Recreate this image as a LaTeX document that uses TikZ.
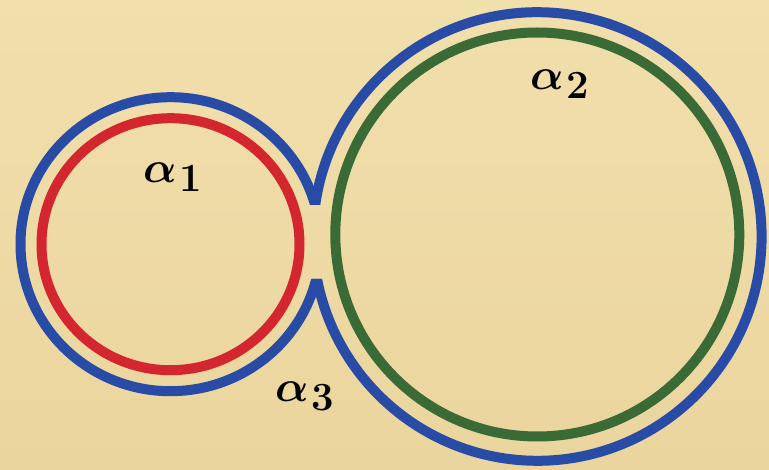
\RequirePackage{fix-cm}
\documentclass[tikz,border=0pt]{standalone}
\usepackage{amsmath}
\definecolor{parch}{RGB}{235,213,158}
\definecolor{parchlight}{RGB}{241,223,172}
\definecolor{cblue}{RGB}{40,76,166}
\definecolor{cred}{RGB}{212,38,46}
\definecolor{cgreen}{RGB}{58,106,54}
\newcommand{\alab}[1]{$\alpha$\hspace{3pt}\raisebox{-9pt}{\fontsize{40}{40}\selectfont\bfseries #1}}
\tikzset{
  ring/.style={line width=10pt, line cap=butt},
  lbl/.style={anchor=base west, inner sep=0pt, font=\fontsize{44}{46}\selectfont\boldmath}
}
\begin{document}
\begin{tikzpicture}[x=1pt,y=1pt]
\useasboundingbox (0,0) rectangle (769,469);
\shade[top color=parchlight, bottom color=parch] (0,0) rectangle (769,469);
% red and green inner curves
\draw[ring, cred] (170.5,224.8) ellipse [x radius=129, y radius=126];
\draw[ring, cgreen] (537.3,234.5) circle [radius=202];
% blue outer curve with gap
\begin{scope}
  \clip (-5,-5) rectangle (290,475) (345,-5) rectangle (775,475)
        (290,-5) rectangle (345,190) (290,264) rectangle (345,475);
  \draw[ring, cblue] (170.5,224.8) ++(5:150 and 147) arc [start angle=5, end angle=355, x radius=150, y radius=147];
  \draw[ring, cblue] (537.3,232.5) ++(177:224.3) arc [start angle=177, end angle=-177, radius=224.3];
\end{scope}
\node[lbl] (a1) at (143,286) {\alab{1}};
\node[lbl] (a2) at (530,379) {\alab{2}};
\node[lbl] (a3) at (275,67) {\alab{3}};
\end{tikzpicture}
\end{document}
